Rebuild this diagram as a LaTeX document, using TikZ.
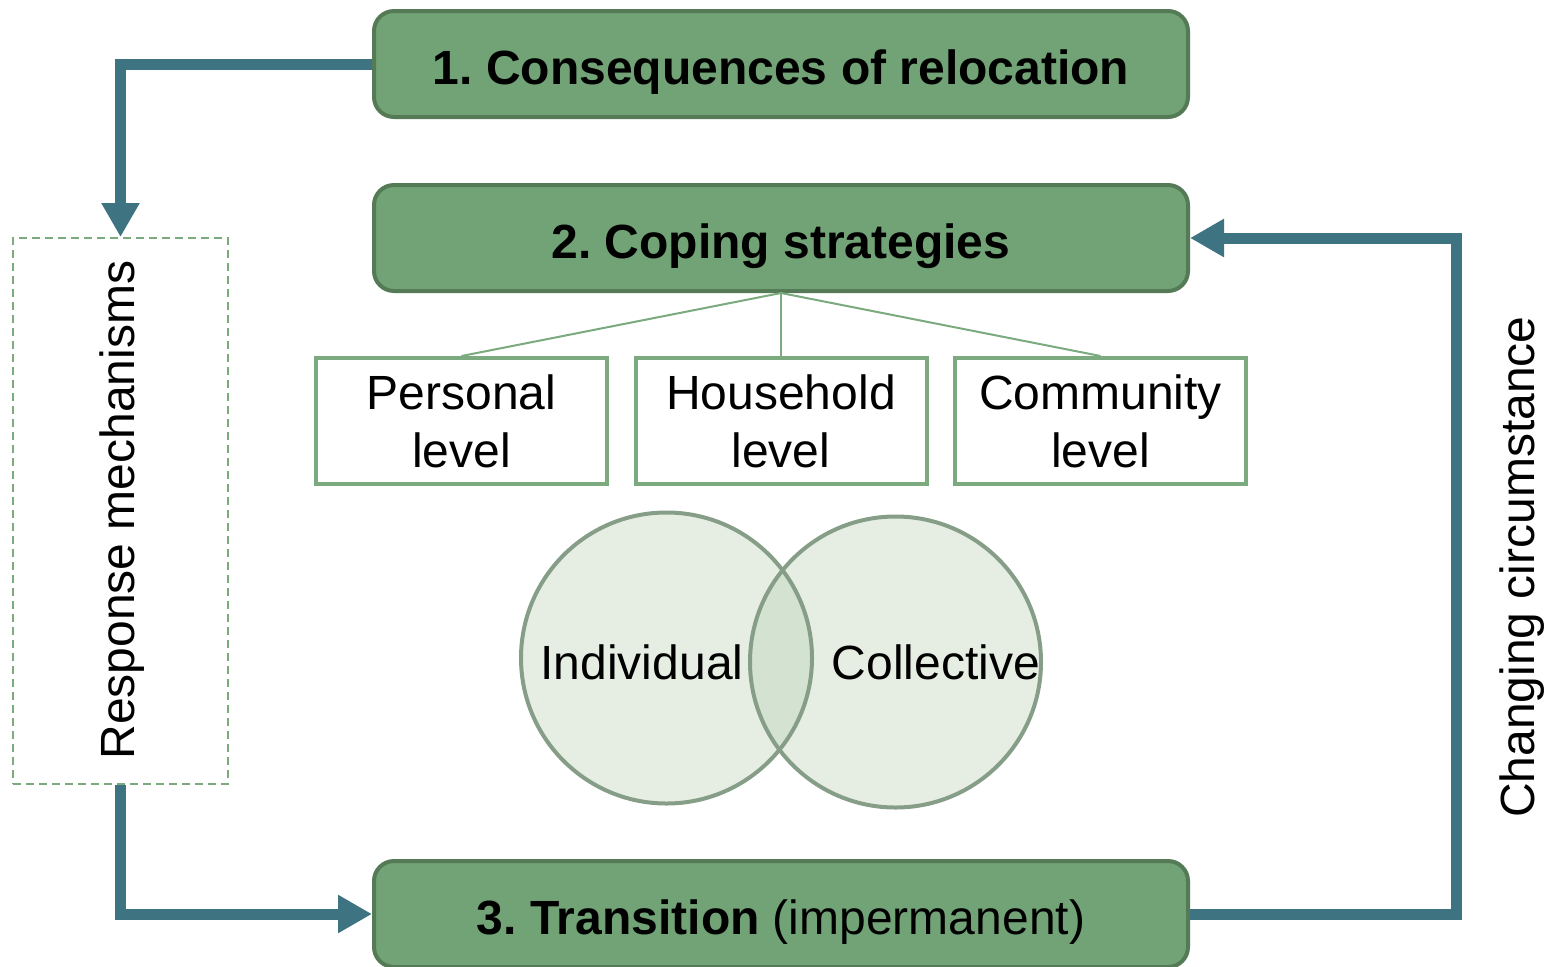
\documentclass[tikz,border=0pt]{standalone}
\usepackage{fontspec}
\setmainfont{Liberation Sans}
\usetikzlibrary{arrows.meta}
\definecolor{boxfill}{RGB}{113,163,118}
\definecolor{boxline}{RGB}{84,122,86}
\definecolor{lvline}{RGB}{122,170,125}
\definecolor{circfill}{RGB}{230,238,228}
\definecolor{circline}{RGB}{134,158,135}
\definecolor{overlap}{RGB}{212,227,209}
\definecolor{teal}{RGB}{62,115,130}
\tikzset{
  mainbox/.style={draw=boxline, fill=boxfill, line width=2pt, rounded corners=10pt,
    minimum width=407pt, minimum height=53pt, inner sep=0pt,
    text height=20pt, text depth=0pt,
    font=\fontsize{24}{29}\selectfont},
  levelbox/.style={draw=lvline, fill=white, line width=2pt,
    minimum width=145.5pt, minimum height=63pt, inner sep=0pt, align=center,
    font=\fontsize{24}{29}\selectfont},
  circ/.style={circle, minimum size=145.5pt, inner sep=0pt},
  flow/.style={draw=teal, line width=5.5pt, -{Triangle[width=18pt,length=17pt]}},
  tree/.style={draw=lvline, line width=1pt},
  label/.style={font=\fontsize{24}{29}\selectfont, inner sep=0pt}
}
\begin{document}
\frenchspacing
\begin{tikzpicture}[x=0.5pt,y=-0.5pt]
\useasboundingbox (0,0) rectangle (1553,966);
% main boxes
\node[mainbox] (b1) at (781,64) {\bfseries 1. Consequences of relocation};
\node[mainbox] (b2) at (781,238) {\bfseries 2. Coping strategies};
\node[mainbox] (b3) at (781,914) {{\bfseries 3. Transition} (impermanent)};
% level boxes
\node[levelbox] (l1) at (461.5,421) {Personal\\level};
\node[levelbox] (l2) at (781,421) {Household\\level};
\node[levelbox] (l3) at (1100.5,421) {Community\\level};
\draw[tree] (b2.south) -- (l1.north);
\draw[tree] (b2.south) -- (l2.north);
\draw[tree] (b2.south) -- (l3.north);
% venn
\node[circ, fill=circfill] (ci) at (666.5,658) {};
\node[circ, fill=circfill] (cc) at (895.5,662) {};
\begin{scope}
  \clip (666.5,658) circle[radius=72.75pt];
  \fill[overlap] (895.5,662) circle[radius=72.75pt];
\end{scope}
\draw[circline, line width=2pt] (666.5,658) circle[radius=72.75pt];
\draw[circline, line width=2pt] (895.5,662) circle[radius=72.75pt];
\node[label] (ti) at (642,662) {Individual};
\node[label] (tc) at (936,662) {Collective};
% response box
\node[draw=lvline, dash pattern=on 4pt off 2.5pt, line width=1pt,
  minimum width=107.5pt, minimum height=273pt, inner sep=0pt] (resp) at (120.5,511) {};
\node[label, rotate=90] (rt) at (122,510) {Response mechanisms};
\node[label, rotate=90] (ct) at (1522,567) {Changing circumstance};
% arrows
\draw[flow] (b1.west) -| (resp.north);
\draw[flow] (resp.south) |- (b3.west);
\draw[flow] (b3.east) -- ++(266,0) |- (b2.east);
\end{tikzpicture}
\end{document}
